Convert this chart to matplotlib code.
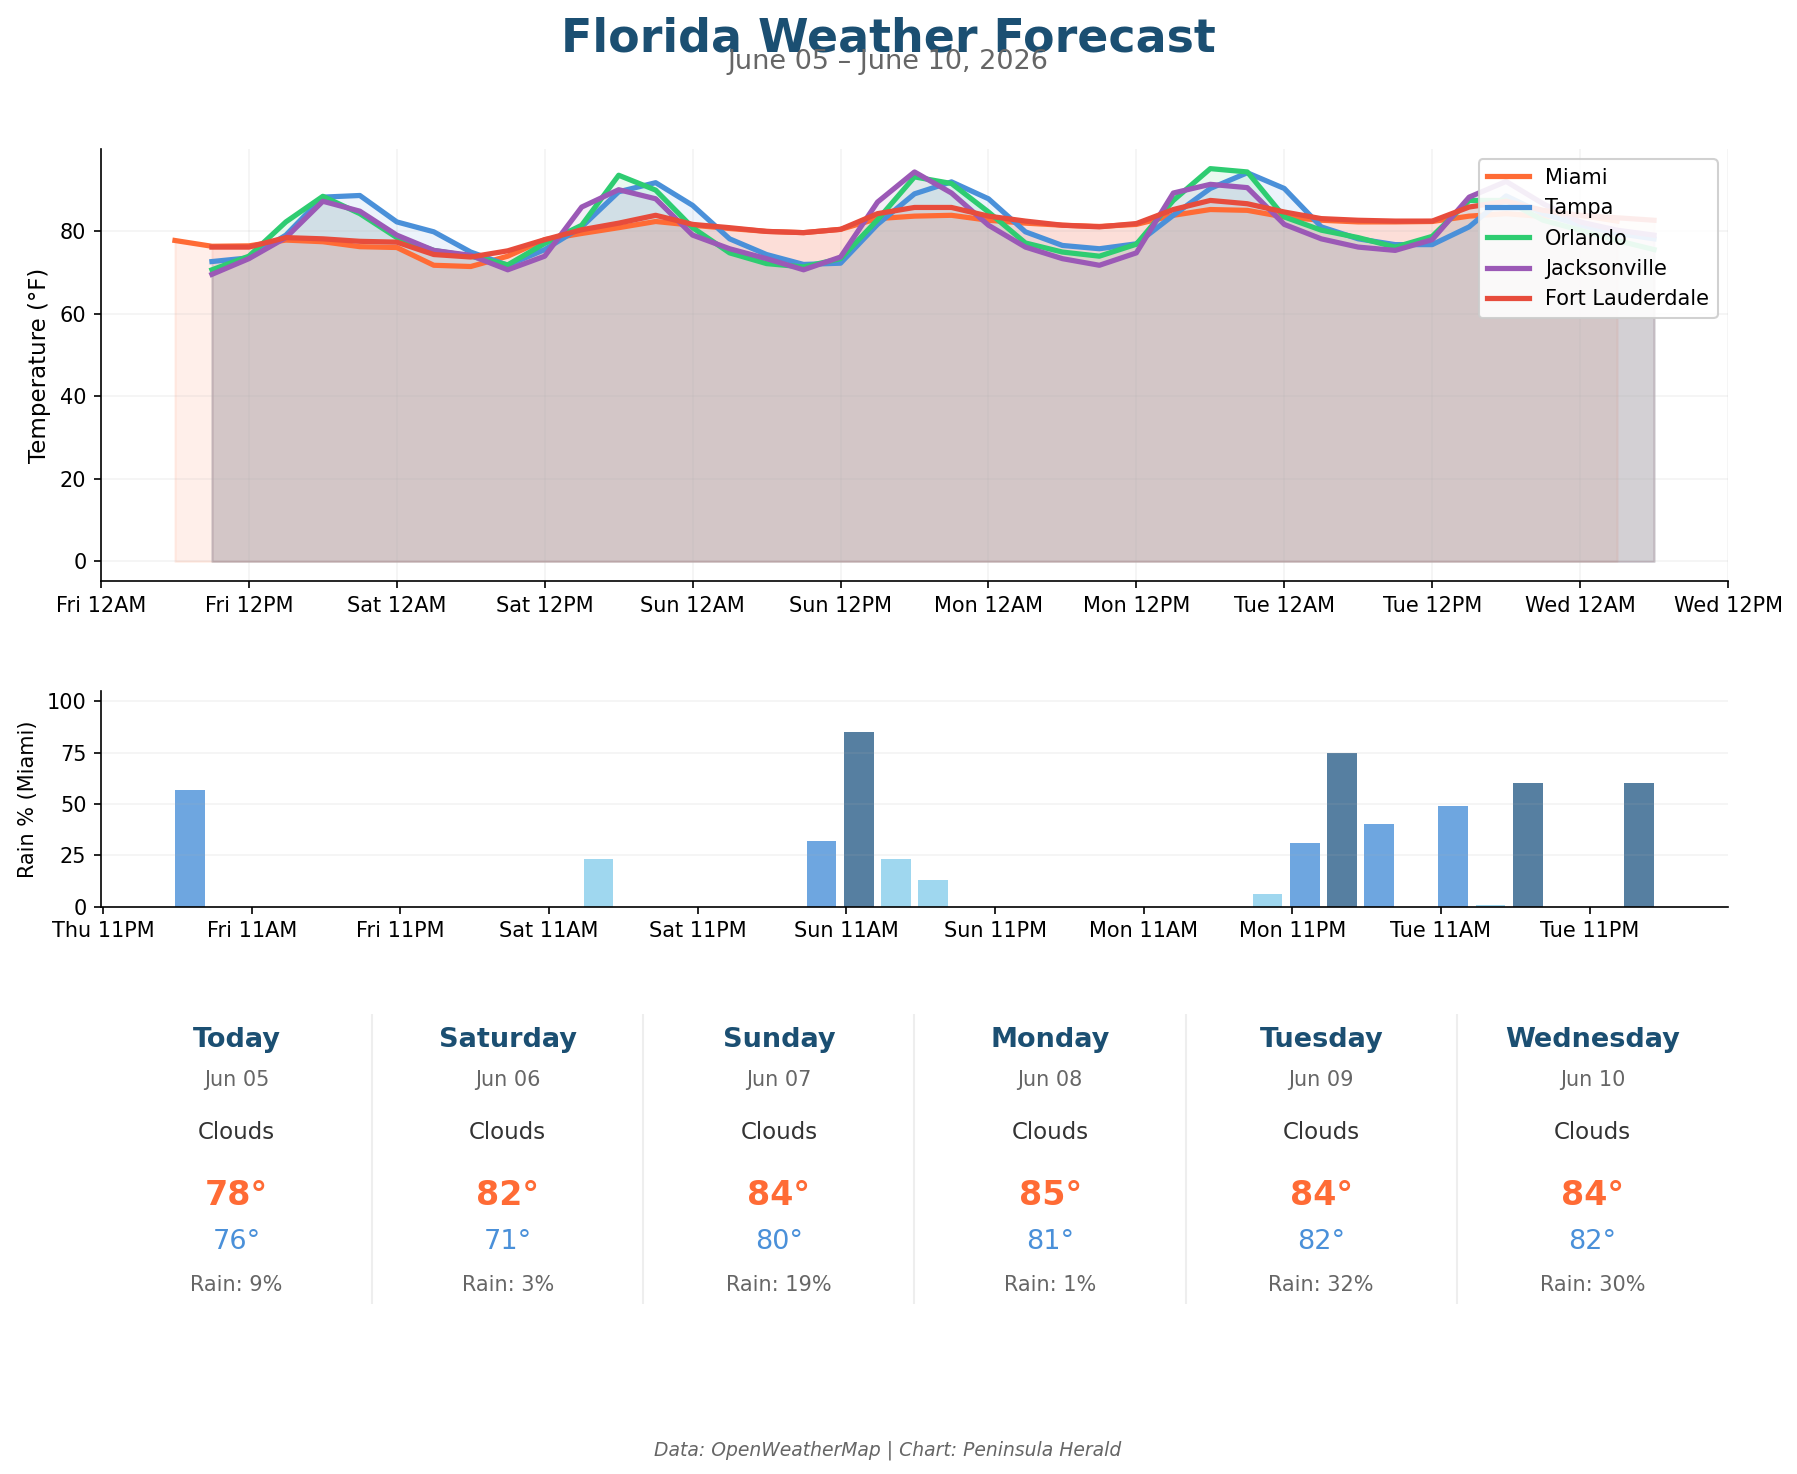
import numpy as np
import matplotlib
matplotlib.use("Agg")
import matplotlib.pyplot as plt

# x values are hours after Fri Jun 05, 12AM
miami_hours = np.arange(6, 124, 3)
city_hours = np.arange(9, 127, 3)

cities = ["Miami", "Tampa", "Orlando", "Jacksonville", "Fort Lauderdale"]
city_colors = ["#FF6B35", "#4A90D9", "#2ECC71", "#9B59B6", "#E74C3C"]

miami = [77.7, 76.3, 76.4, 77.8, 77.4, 76.2, 76.0, 71.7, 71.4, 73.9,
         77.9, 79.4, 80.8, 82.3, 81.4, 80.6, 79.9, 79.6, 80.4, 83.0,
         83.6, 83.8, 82.6, 81.9, 81.4, 81.1, 81.6, 83.8, 85.2, 85.0,
         83.4, 82.6, 82.2, 82.2, 82.3, 83.6, 84.2, 83.5, 83.8, 82.4]
tampa = [72.6, 73.5, 79.0, 88.2, 88.6, 82.2, 79.8, 74.9, 71.7, 75.5,
         81.0, 89.5, 91.7, 86.2, 78.1, 74.3, 71.9, 72.2, 81.6, 89.0,
         91.9, 87.8, 79.8, 76.5, 75.7, 76.9, 83.8, 90.3, 94.1, 90.3,
         81.0, 78.1, 76.7, 76.7, 81.0, 88.5, 84.2, 81.4, 79.4, 78.1]
orlando = [70.6, 73.9, 82.2, 88.4, 84.2, 78.4, 75.3, 73.9, 71.8, 77.0,
           81.4, 93.5, 89.9, 80.8, 74.7, 72.1, 71.3, 73.3, 82.7, 93.1,
           91.5, 84.6, 77.1, 74.9, 73.9, 76.8, 87.4, 95.1, 94.3, 83.4,
           80.2, 78.4, 76.1, 78.7, 87.4, 87.4, 82.6, 80.2, 77.7, 75.5]
jacksonville = [69.5, 73.3, 78.4, 87.2, 84.8, 79.0, 75.3, 74.1, 70.6, 73.9,
                85.8, 90.0, 87.8, 79.0, 75.7, 73.3, 70.6, 73.7, 87.0, 94.3,
                89.2, 81.4, 76.1, 73.3, 71.7, 74.7, 89.2, 91.3, 90.5, 81.6,
                78.1, 76.1, 75.3, 77.9, 88.2, 92.0, 86.6, 82.2, 80.2, 79.0]
fort_lauderdale = [76.1, 76.1, 78.4, 78.1, 77.5, 77.3, 74.3, 73.7, 75.2, 77.9,
                   80.3, 81.9, 83.8, 81.6, 80.8, 79.9, 79.6, 80.4, 84.2, 85.7,
                   85.7, 83.6, 82.4, 81.4, 81.0, 81.8, 85.2, 87.4, 86.6, 84.6,
                   83.0, 82.6, 82.4, 82.4, 85.8, 87.2, 85.0, 83.8, 83.2, 82.6]
temps = [miami, tampa, orlando, jacksonville, fort_lauderdale]
hours = [miami_hours, city_hours, city_hours, city_hours, city_hours]

# Miami chance of rain (%) per 3h step
miami_rain = [57, 0, 0, 0, 0, 0, 0, 0, 0, 0,
              0, 23, 0, 0, 0, 0, 0, 32, 85, 23,
              13, 0, 0, 0, 0, 0, 0, 0, 0, 6,
              31, 75, 40, 0, 49, 1, 60, 0, 0, 60]

temp_ticks = np.arange(0, 133, 12)
temp_tick_labels = ["Fri 12AM", "Fri 12PM", "Sat 12AM", "Sat 12PM", "Sun 12AM",
                    "Sun 12PM", "Mon 12AM", "Mon 12PM", "Tue 12AM", "Tue 12PM",
                    "Wed 12AM", "Wed 12PM"]
rain_ticks = np.arange(-1, 120, 12)
rain_tick_labels = ["Thu 11PM", "Fri 11AM", "Fri 11PM", "Sat 11AM", "Sat 11PM",
                    "Sun 11AM", "Sun 11PM", "Mon 11AM", "Mon 11PM", "Tue 11AM",
                    "Tue 11PM"]

# daily summary cards (Miami)
day_names = ["Today", "Saturday", "Sunday", "Monday", "Tuesday", "Wednesday"]
day_dates = ["Jun 05", "Jun 06", "Jun 07", "Jun 08", "Jun 09", "Jun 10"]
day_conditions = ["Clouds", "Clouds", "Clouds", "Clouds", "Clouds", "Clouds"]
day_high = [78, 82, 84, 85, 84, 84]
day_low = [76, 71, 80, 81, 82, 82]
day_rain = [9, 3, 19, 1, 32, 30]

W, H = 1797, 1474
fig = plt.figure(figsize=(W / 150, H / 150), dpi=150)

navy = "#1B4F72"
xc = 888 / W
fig.text(xc, 1 - 39 / H, "Florida Weather Forecast", ha="center", va="center",
         fontsize=22, fontweight="bold", color=navy)
fig.text(xc, 1 - 62 / H, "June 05 \u2013 June 10, 2026", ha="center", va="center",
         fontsize=13, color="#666666")

left = 101 / W
width = (1728 - 101) / W

#----- temperature panel -----
ax1 = fig.add_axes([left, 1 - 581 / H, width, (581 - 149) / H])
for name, col, t, y in zip(cities, city_colors, hours, temps):
    ax1.plot(t, y, color=col, lw=2.5, label=name)
    ax1.fill_between(t, y, color=col, alpha=0.1)
ax1.set_xlim(0, 132)
ax1.set_xticks(temp_ticks)
ax1.set_xticklabels(temp_tick_labels)
ax1.set_ylabel("Temperature (\u00b0F)", fontsize=11)
ax1.grid(True, alpha=0.14)
ax1.spines["top"].set_visible(False)
ax1.spines["right"].set_visible(False)
ax1.legend(loc="upper right", fontsize=10, framealpha=0.9)

#----- rain panel -----
ax2 = fig.add_axes([left, 1 - 906.6 / H, width, (906.6 - 691) / H])
bar_colors = []
for r in miami_rain:
    if r >= 60:
        bar_colors.append("#2C5F8A")
    elif r >= 30:
        bar_colors.append("#4A90D9")
    else:
        bar_colors.append("#87CEEB")
ax2.bar(miami_hours, miami_rain, width=2.4, color=bar_colors, alpha=0.8)
ax2.set_ylim(0, 105)
ax2.set_xticks(rain_ticks)
ax2.set_xticklabels(rain_tick_labels)
ax2.set_ylabel("Rain % (Miami)", fontsize=10)
ax2.grid(True, axis="y", alpha=0.14)
ax2.spines["top"].set_visible(False)
ax2.spines["right"].set_visible(False)

#----- daily cards -----
ax3 = fig.add_axes([left, 1 - 1304 / H, width, (1304 - 1014) / H])
ax3.set_xlim(0, 6)
ax3.set_ylim(0, 1)
ax3.axis("off")
for i in range(6):
    cx = i + 0.5
    if i > 0:
        ax3.axvline(i, color="#eeeeee", lw=1)
    ax3.text(cx, 0.912, day_names[i], ha="center", va="center", fontsize=13,
             fontweight="bold", color=navy)
    ax3.text(cx, 0.774, day_dates[i], ha="center", va="center", fontsize=10,
             color="#666666")
    ax3.text(cx, 0.592, day_conditions[i], ha="center", va="center", fontsize=11,
             color="#333333")
    ax3.text(cx, 0.374, f"{day_high[i]}\u00b0", ha="center", va="center",
             fontsize=16, fontweight="bold", color="#FF6B35")
    ax3.text(cx, 0.213, f"{day_low[i]}\u00b0", ha="center", va="center",
             fontsize=13, color="#4A90D9")
    ax3.text(cx, 0.066, f"Rain: {day_rain[i]}%", ha="center", va="center",
             fontsize=10, color="#666666")

fig.text(xc, 1 - 1450 / H, "Data: OpenWeatherMap | Chart: Peninsula Herald",
         ha="center", va="center", fontsize=9, style="italic", color="#666666")

fig.savefig("out.png", dpi=150)
